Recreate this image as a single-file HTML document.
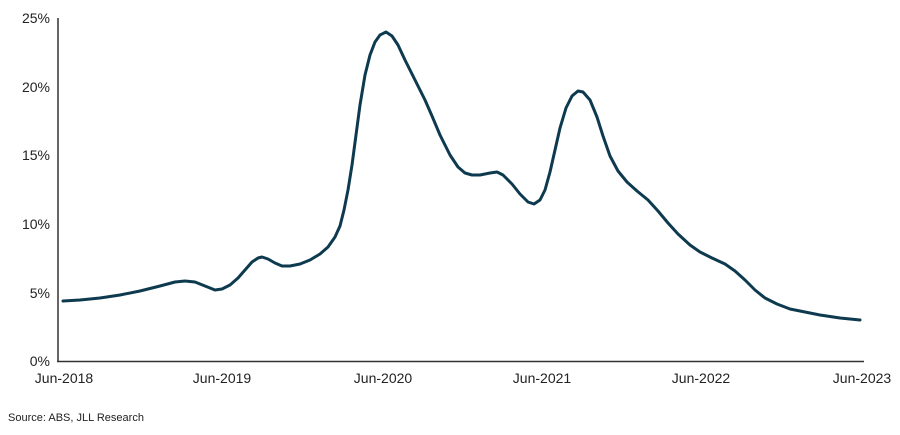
<!DOCTYPE html>
<html><head><meta charset="utf-8"><style>
body{margin:0;background:#fff;}
svg text{font-family:"Liberation Sans",Arial,sans-serif;fill:#222;}
</style></head><body>
<svg width="900" height="430" xmlns="http://www.w3.org/2000/svg">
<line x1="58" y1="18" x2="58" y2="362" stroke="#333" stroke-width="1.5"/>
<line x1="57" y1="361.5" x2="864" y2="361.5" stroke="#333" stroke-width="1.5"/>
<g font-size="14" text-anchor="end">
<text x="50" y="366">0%</text>
<text x="50" y="298">5%</text>
<text x="50" y="229">10%</text>
<text x="50" y="160">15%</text>
<text x="50" y="92">20%</text>
<text x="50" y="23">25%</text>
</g>
<g font-size="14" text-anchor="middle">
<text x="64" y="383">Jun-2018</text>
<text x="222" y="383">Jun-2019</text>
<text x="383" y="383">Jun-2020</text>
<text x="542" y="383">Jun-2021</text>
<text x="701" y="383">Jun-2022</text>
<text x="862" y="383">Jun-2023</text>
</g>
<text x="8" y="421" font-size="11">Source: ABS, JLL Research</text>
<polyline fill="none" stroke="#0e3a4f" stroke-width="3" stroke-linecap="round" stroke-linejoin="round" points="63,301 80,300 100,298 120,295 140,291 160,286 175,282 185,281 195,282 205,286 215,290 222,289 230,285 238,278 245,270 252,262 258,258 262,257 268,259 275,263 282,266 290,266 300,264 310,260 320,254 328,247 335,237 340,226 344,210 348,190 352,165 356,135 360,105 365,75 370,55 375,42 380,35 386,32 392,36 398,45 405,60 415,80 425,100 432,116 440,135 450,155 458,167 465,173 472,175 480,175 490,173 497,172 503,175 512,184 520,194 528,202 534,204 540,200 545,190 550,172 555,150 560,128 566,108 572,96 578,91 583,92 590,100 597,117 603,136 610,156 618,171 627,182 637,191 648,200 658,211 668,223 678,234 690,245 700,252 712,258 725,264 735,271 745,280 755,290 765,298 777,304 790,309 805,312 820,315 840,318 860,320"/>
</svg>
</body></html>
